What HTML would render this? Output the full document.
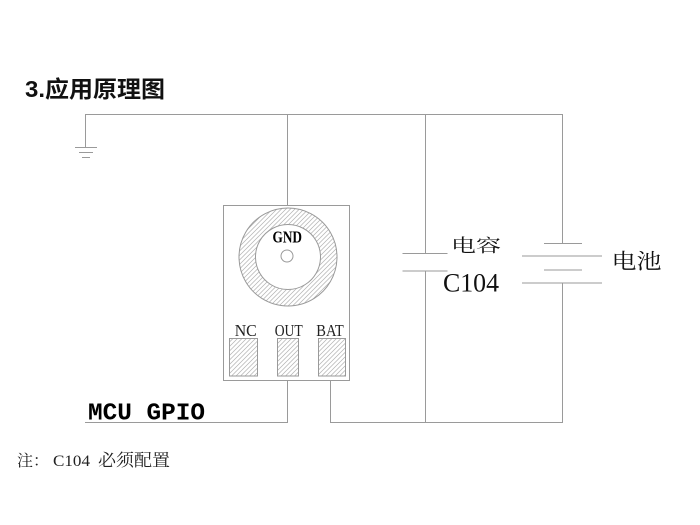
<!DOCTYPE html>
<html>
<head>
<meta charset="utf-8">
<style>
  html, body { margin: 0; padding: 0; background: #fff; }
  body { width: 700px; height: 525px; overflow: hidden; }
  svg { display: block; }
  .ln { stroke: #9a9a9a; stroke-width: 1; fill: none; }
  .serif { font-family: "Liberation Serif", "Noto Serif CJK SC", serif; }
  .sans { font-family: "Liberation Sans", "Noto Sans CJK SC", sans-serif; }
  .mono { font-family: "Liberation Mono", "Noto Sans CJK SC", monospace; }
</style>
</head>
<body>
<svg width="700" height="525" viewBox="0 0 700 525" xmlns="http://www.w3.org/2000/svg">
  <defs>
    <pattern id="hatch" patternUnits="userSpaceOnUse" width="4.5" height="4.5">
      <path d="M-1,5.5 L5.5,-1 M-1,1 L1,-1 M3.5,5.5 L5.5,3.5" stroke="#b0b0b0" stroke-width="0.7"/>
    </pattern>
  </defs>

  <!-- Title -->
  <text x="25" y="97" class="sans" font-size="23" font-weight="bold" fill="#111" textLength="140" lengthAdjust="spacingAndGlyphs">3.应用原理图</text>

  <!-- top wire -->
  <line class="ln" x1="85" y1="114.5" x2="563" y2="114.5"/>
  <!-- ground -->
  <line class="ln" x1="85.5" y1="114" x2="85.5" y2="147"/>
  <line class="ln" x1="75" y1="147.5" x2="97" y2="147.5"/>
  <line class="ln" x1="79" y1="152.5" x2="93" y2="152.5"/>
  <line class="ln" x1="82" y1="157.5" x2="90" y2="157.5"/>

  <!-- GND wire to sensor -->
  <line class="ln" x1="287.5" y1="114" x2="287.5" y2="206"/>

  <!-- sensor box -->
  <rect class="ln" x="223.5" y="205.5" width="126" height="175"/>
  <!-- ring -->
  <path d="M288,208 a49,49 0 1,0 0.01,0 Z M288,224.5 a32.5,32.5 0 1,1 -0.01,0 Z" fill="url(#hatch)" fill-rule="evenodd" stroke="#9a9a9a" stroke-width="1"/>
  <circle class="ln" cx="287" cy="256" r="6" stroke="#b0b0b0"/>
  <text x="272.5" y="242.7" class="serif" font-size="17" font-weight="bold" fill="#000" textLength="29.5" lengthAdjust="spacingAndGlyphs">GND</text>

  <!-- pin labels -->
  <text x="234.7" y="336" class="serif" font-size="17" fill="#222" textLength="22" lengthAdjust="spacingAndGlyphs">NC</text>
  <text x="274.7" y="336" class="serif" font-size="17" fill="#222" textLength="28" lengthAdjust="spacingAndGlyphs">OUT</text>
  <text x="316.3" y="336" class="serif" font-size="17" fill="#222" textLength="27.4" lengthAdjust="spacingAndGlyphs">BAT</text>

  <!-- pads -->
  <rect x="229.5" y="338.5" width="28" height="37.5" fill="url(#hatch)" stroke="#9a9a9a" stroke-width="1"/>
  <rect x="277.5" y="338.5" width="21" height="37.5" fill="url(#hatch)" stroke="#9a9a9a" stroke-width="1"/>
  <rect x="318.5" y="338.5" width="27" height="37.5" fill="url(#hatch)" stroke="#9a9a9a" stroke-width="1"/>

  <!-- OUT wire -->
  <line class="ln" x1="287.5" y1="381" x2="287.5" y2="422.5"/>
  <line class="ln" x1="85" y1="422.5" x2="288" y2="422.5"/>
  <!-- BAT wire -->
  <line class="ln" x1="330.5" y1="381" x2="330.5" y2="422.5"/>
  <line class="ln" x1="330" y1="422.5" x2="563" y2="422.5"/>

  <!-- capacitor -->
  <line class="ln" x1="425.5" y1="114" x2="425.5" y2="253.5"/>
  <line class="ln" x1="402.5" y1="253.5" x2="447.5" y2="253.5"/>
  <line class="ln" x1="402.5" y1="271" x2="447.5" y2="271"/>
  <line class="ln" x1="425.5" y1="271" x2="425.5" y2="422.5"/>
  <text x="451" y="252" class="serif" font-size="18" fill="#111" textLength="50" lengthAdjust="spacingAndGlyphs">电容</text>
  <text x="443" y="291.5" class="serif" font-size="26" fill="#111" textLength="56" lengthAdjust="spacingAndGlyphs">C104</text>

  <!-- battery -->
  <line class="ln" x1="562.5" y1="114" x2="562.5" y2="243.5"/>
  <line class="ln" x1="544" y1="243.5" x2="582" y2="243.5"/>
  <line class="ln" x1="522" y1="256" x2="602" y2="256"/>
  <line class="ln" x1="544" y1="270" x2="582" y2="270"/>
  <line class="ln" x1="522" y1="283" x2="602" y2="283"/>
  <line class="ln" x1="562.5" y1="283" x2="562.5" y2="422.5"/>
  <text x="611.5" y="268.5" class="serif" font-size="21" fill="#111" textLength="50" lengthAdjust="spacingAndGlyphs">电池</text>

  <!-- MCU GPIO -->
  <text x="88" y="419.3" class="mono" font-size="24" font-weight="bold" fill="#000" textLength="117" lengthAdjust="spacingAndGlyphs">MCU GPIO</text>

  <!-- note -->
  <text x="17" y="466" class="serif" font-size="16" fill="#222">注：</text>
  <text x="53" y="466" class="serif" font-size="16" fill="#222" textLength="37" lengthAdjust="spacingAndGlyphs">C104</text>
  <text x="98" y="466" class="serif" font-size="17" fill="#222" textLength="72" lengthAdjust="spacingAndGlyphs">必须配置</text>
</svg>
</body>
</html>
